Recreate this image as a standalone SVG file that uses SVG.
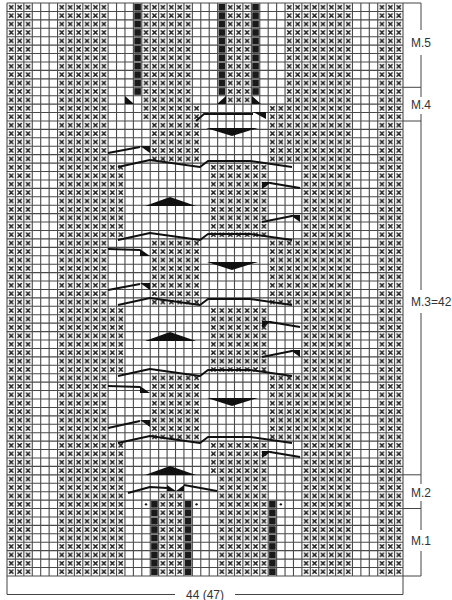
<svg xmlns="http://www.w3.org/2000/svg" width="452" height="600" viewBox="0 0 452 600">
<style>
.x{fill:url(#xp)}
.b{fill:url(#bp)}
.g{stroke:#4a4a4a;stroke-width:0.13;fill:none}
.cab{fill:none;stroke:#111;stroke-width:2;stroke-linejoin:round}
.w{fill:#111}
.lbl{font-family:"Liberation Sans",Arial,sans-serif;font-size:12px;fill:#333}
.br{stroke:#444;stroke-width:1;fill:none}
</style>
<defs>
<pattern id="xp" patternUnits="userSpaceOnUse" x="0" y="0" width="1" height="1">
<path d="M0.25,0.25L0.75,0.75M0.75,0.25L0.25,0.75" stroke="#1a1a1a" stroke-width="0.19" fill="none"/>
</pattern>
<pattern id="bp" patternUnits="userSpaceOnUse" x="0" y="0" width="1" height="1">
<rect x="0.1" y="0.08" width="0.8" height="0.84" fill="#1a1a1a"/>
</pattern>
</defs>
<rect x="0" y="0" width="452" height="600" fill="#fff"/>
<g id="chart" transform="translate(7,3) scale(8.4255)">
<g id="purl">
<rect class="x" x="0" y="0" width="3" height="68"/>
<rect class="x" x="44" y="0" width="3" height="68"/>
<rect class="x" x="6" y="0" width="6" height="14"/>
<rect class="x" x="16" y="0" width="6" height="12"/>
<rect class="x" x="26" y="0" width="3" height="12"/>
<rect class="x" x="33" y="0" width="8" height="12"/>
<rect class="x" x="16" y="12" width="7" height="2"/>
<rect class="x" x="31" y="12" width="10" height="2"/>
<rect class="x" x="6" y="14" width="6" height="5"/>
<rect class="x" x="17" y="14" width="6" height="5"/>
<rect class="x" x="31" y="14" width="10" height="5"/>
<rect class="x" x="6" y="19" width="8" height="9"/>
<rect class="x" x="24" y="19" width="7" height="9"/>
<rect class="x" x="35" y="19" width="6" height="9"/>
<rect class="x" x="6" y="28" width="6" height="8"/>
<rect class="x" x="17" y="28" width="6" height="8"/>
<rect class="x" x="31" y="28" width="10" height="8"/>
<rect class="x" x="6" y="36" width="8" height="8"/>
<rect class="x" x="24" y="36" width="7" height="8"/>
<rect class="x" x="35" y="36" width="6" height="8"/>
<rect class="x" x="6" y="44" width="6" height="8"/>
<rect class="x" x="17" y="44" width="6" height="8"/>
<rect class="x" x="31" y="44" width="10" height="8"/>
<rect class="x" x="6" y="52" width="8" height="16"/>
<rect class="x" x="24" y="52" width="7" height="4"/>
<rect class="x" x="25" y="56" width="6" height="12"/>
<rect class="x" x="18" y="58" width="3" height="10"/>
<rect class="x" x="35" y="52" width="6" height="16"/>
</g>
<g id="knit-tbl">
<rect class="b" x="15" y="0" width="1" height="11"/>
<rect class="b" x="25" y="0" width="1" height="11"/>
<rect class="b" x="29" y="0" width="1" height="11"/>
<rect class="b" x="17" y="59" width="1" height="9"/>
<rect class="b" x="21" y="59" width="1" height="9"/>
<rect class="b" x="31" y="59" width="1" height="9"/>
</g>
<path class="g" d="M0 0V68M1 0V68M2 0V68M3 0V68M4 0V68M5 0V68M6 0V68M7 0V68M8 0V68M9 0V68M10 0V68M11 0V68M12 0V68M13 0V68M14 0V68M15 0V68M16 0V68M17 0V68M18 0V68M19 0V68M20 0V68M21 0V68M22 0V68M23 0V68M24 0V68M25 0V68M26 0V68M27 0V68M28 0V68M29 0V68M30 0V68M31 0V68M32 0V68M33 0V68M34 0V68M35 0V68M36 0V68M37 0V68M38 0V68M39 0V68M40 0V68M41 0V68M42 0V68M43 0V68M44 0V68M45 0V68M46 0V68M47 0V68M0 0H47M0 1H47M0 2H47M0 3H47M0 4H47M0 5H47M0 6H47M0 7H47M0 8H47M0 9H47M0 10H47M0 11H47M0 12H47M0 13H47M0 14H47M0 15H47M0 16H47M0 17H47M0 18H47M0 19H47M0 20H47M0 21H47M0 22H47M0 23H47M0 24H47M0 25H47M0 26H47M0 27H47M0 28H47M0 29H47M0 30H47M0 31H47M0 32H47M0 33H47M0 34H47M0 35H47M0 36H47M0 37H47M0 38H47M0 39H47M0 40H47M0 41H47M0 42H47M0 43H47M0 44H47M0 45H47M0 46H47M0 47H47M0 48H47M0 49H47M0 50H47M0 51H47M0 52H47M0 53H47M0 54H47M0 55H47M0 56H47M0 57H47M0 58H47M0 59H47M0 60H47M0 61H47M0 62H47M0 63H47M0 64H47M0 65H47M0 66H47M0 67H47M0 68H47"/>
<g id="dots" fill="#111">
<circle cx="16.5" cy="59.5" r="0.14"/>
<circle cx="22.5" cy="59.5" r="0.14"/>
<circle cx="32.5" cy="59.5" r="0.14"/>
</g>
</g>
<g id="symbols">
<polygon class="w" points="125,96 125,104 134,104"/>
<polygon class="w" points="226,96 226,104 217,104"/>
<polygon class="w" points="252,96 252,104 261,104"/>
<polygon class="w" points="206,128 258,128 232,136"/>
<polygon class="w" points="145,206 196,206 170,197"/>
<polygon class="w" points="207,262 258,262 232,270"/>
<polygon class="w" points="145,341 196,341 170,332"/>
<polygon class="w" points="207,398 258,398 232,406"/>
<polygon class="w" points="145,475 196,475 170,466"/>
</g>
<g id="connectors">
<polyline class="cab" points="196,121 204,114 253,114"/>
<polygon class="w" points="253,112 266,112 266,119"/>
<polyline class="cab" points="108,153 140,147"/>
<polygon class="w" points="140,146 150,146 150,153"/>
<polyline class="cab" points="118,167 150,160 200,167 208,161 250,161 292,167"/>
<polyline class="cab" points="270,183 300,188"/>
<polygon class="w" points="262,182 272,182 262,189"/>
<polyline class="cab" points="262,222 292,216"/>
<polygon class="w" points="290,215 300,215 300,222"/>
<polyline class="cab" points="118,240 150,233 200,240 208,234 250,234 292,240"/>
<polyline class="cab" points="108,249 140,250"/>
<polygon class="w" points="140,249 140,256 150,256"/>
<polyline class="cab" points="108,290 140,284"/>
<polygon class="w" points="140,283 150,283 150,290"/>
<polyline class="cab" points="118,305 150,298 200,305 208,299 250,299 292,305"/>
<polyline class="cab" points="270,322 300,327"/>
<polygon class="w" points="262,321 272,321 262,328"/>
<polyline class="cab" points="262,357 292,351"/>
<polygon class="w" points="290,350 300,350 300,357"/>
<polyline class="cab" points="118,376 150,369 200,376 208,370 250,370 292,376"/>
<polyline class="cab" points="108,386 140,387"/>
<polygon class="w" points="140,386 140,393 150,393"/>
<polyline class="cab" points="108,428 140,421"/>
<polygon class="w" points="140,420 150,420 150,427"/>
<polyline class="cab" points="118,443 150,436 200,443 208,437 250,437 292,443"/>
<polyline class="cab" points="270,452 300,457"/>
<polygon class="w" points="262,451 272,451 262,458"/>
<polyline class="cab" points="128,493 150,487 167,488"/>
<polygon class="w" points="167,485 167,491 176,491"/>
<polygon class="w" points="176,491 184,491 184,485"/>
<polyline class="cab" points="184,485 217,491"/>
</g>
<g id="brackets">
<path class="br" d="M403,3H421V30M421,55V87.3H403M421,87.3V97M421,114V121H403M421,121V290M421,313V474.8H403M421,474.8V484M421,501V508.5H403M421,508.5V530M421,551V576H403"/>
<path class="br" d="M7,576V594.5H175M235,594.5H403V576"/>
<text class="lbl" x="411" y="47">M.5</text>
<text class="lbl" x="411" y="109">M.4</text>
<text class="lbl" x="411" y="306">M.3=42</text>
<text class="lbl" x="411" y="497">M.2</text>
<text class="lbl" x="411" y="545">M.1</text>
<text class="lbl" x="205" y="598.5" text-anchor="middle">44 (47)</text>
</g>
</svg>
